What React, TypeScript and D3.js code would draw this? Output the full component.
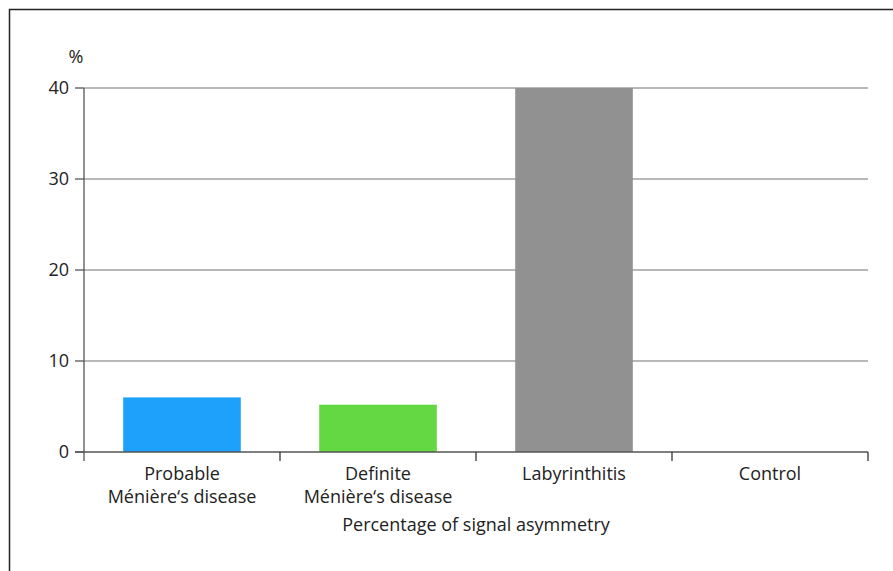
import React from "react";
import * as d3 from "d3";

const categories = ["Probable\nMénière‘s disease", "Definite\nMénière‘s disease", "Labyrinthitis", "Control"];
const values = [6, 5.2, 40, 0];
const colors = ["#1ea1fb", "#63d843", "#919191", "#cccccc"];
const yTicks = [0, 10, 20, 30, 40];
const xTitle = "Percentage of signal asymmetry";
const yUnit = "%";

export default function App() {
  const W = 893, H = 571;
  const left = 84, right = 868, top = 88, bottom = 452;
  const x = d3.scaleBand<string>().domain(categories).range([left, right]).paddingInner(0.4).paddingOuter(0.2);
  const y = d3.scaleLinear().domain([0, 40]).range([bottom, top]);
  const font = "'Open Sans', 'Noto Sans', sans-serif";
  const fs = 18;
  const step = x.step();
  return (
    <svg width={W} height={H} style={{ position: "absolute", left: 0, top: 0, background: "#fff" }} fontFamily={font}>
      <rect x={9.5} y={9.5} width={1000} height={1000} fill="none" stroke="#222" strokeWidth={1.5} />
      {yTicks.map((t) => (
        <g key={t}>
          {t > 0 && <line x1={left} x2={right} y1={y(t)} y2={y(t)} stroke="#a0a0a0" strokeWidth={1.3} />}
          <line x1={left - 9} x2={left} y1={y(t)} y2={y(t)} stroke="#555" strokeWidth={1.3} />
          <text x={left - 15} y={y(t)} dy="0.36em" textAnchor="end" fontSize={fs} fill="#222">{t}</text>
        </g>
      ))}
      <text x={76} y={63} textAnchor="middle" fontSize={fs} fill="#222">{yUnit}</text>
      {categories.map((c, i) => (
        <rect key={c} x={x(c)} y={y(values[i])} width={x.bandwidth()} height={y(0) - y(values[i])} fill={colors[i]} />
      ))}
      <line x1={left} x2={left} y1={top} y2={bottom + 9} stroke="#555" strokeWidth={1.3} />
      <line x1={left - 9} x2={right} y1={bottom} y2={bottom} stroke="#555" strokeWidth={1.5} />
      {categories.map((c, i) => {
        const xe = (x(c) as number) - step * 0.2 + step;
        return <line key={"t" + i} x1={xe} x2={xe} y1={bottom} y2={bottom + 9} stroke="#333" strokeWidth={1.3} />;
      })}
      {categories.map((c) => {
        const cx = (x(c) as number) + x.bandwidth() / 2;
        return c.split("\n").map((s, j) => (
          <text key={"l" + c + j} x={cx} y={480 + j * 23} textAnchor="middle" fontSize={fs} fill="#222">{s}</text>
        ));
      })}
      <text x={(left + right) / 2} y={531} textAnchor="middle" fontSize={fs} fill="#222">{xTitle}</text>
    </svg>
  );
}
